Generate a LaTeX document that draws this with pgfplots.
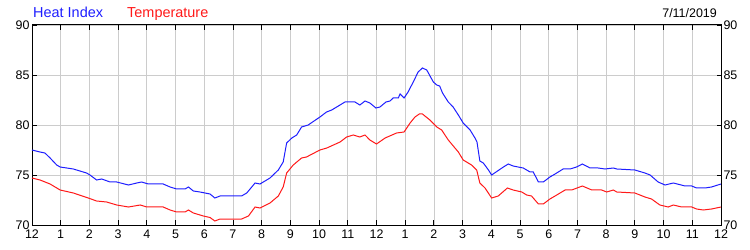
\documentclass[border=0pt]{standalone}
\usepackage{pgfplots}
\pgfplotsset{compat=1.18}
\usepackage{fontspec}
\setmainfont{Liberation Sans}
\definecolor{hiblue}{RGB}{30,30,255}
\definecolor{tred}{RGB}{255,25,25}
\begin{document}
\begin{tikzpicture}
\path[use as bounding box] (-32bp,-25bp) rectangle (718bp,225bp);
\begin{axis}[
  scale only axis, width=689bp, height=200bp,
  xmin=0, xmax=24, ymin=70, ymax=90,
  xtick={0,...,24},
  xticklabels={12,1,2,3,4,5,6,7,8,9,10,11,12,1,2,3,4,5,6,7,8,9,10,11,12},
  ytick={70,75,...,90},
  grid=major,
  major grid style={draw=black!20, line width=0.8bp},
  axis line style={line width=1bp},
  tick align=inside,
  major tick length=4.5bp,
  every tick/.style={black, line width=0.9bp},
  xtick pos=both, ytick pos=both,
  yticklabel pos=left,
  /pgf/number format/assume math mode=true,
  tick label style={font=\fontsize{12.5}{14}\selectfont},
  xticklabel style={yshift=-1bp},
  yticklabel style={xshift=1bp},
  clip=false,
]
\addplot[hiblue, line width=1bp] coordinates {
(0,77.5) (0.28,77.3) (0.45,77.2) (0.63,76.7) (0.86,76.0) (0.98,75.8) (1.44,75.6)
(1.9,75.2) (2.02,75.0) (2.25,74.5) (2.43,74.6) (2.72,74.3) (2.95,74.3) (3.36,74.0)
(3.65,74.2) (3.82,74.3) (4.05,74.1) (4.57,74.1) (4.81,73.8) (5.04,73.6) (5.33,73.6)
(5.45,73.8) (5.62,73.4) (5.85,73.3) (6.2,73.1) (6.37,72.7) (6.55,72.9) (7.3,72.9)
(7.48,73.2) (7.77,74.2) (7.94,74.1) (8.29,74.7) (8.58,75.5) (8.75,76.3) (8.87,78.2)
(9.05,78.7) (9.22,79.0) (9.39,79.8) (9.62,80.0) (10.03,80.8) (10.26,81.3) (10.44,81.5)
(10.73,82.0) (10.9,82.3) (11.25,82.3) (11.42,82.0) (11.6,82.4) (11.77,82.2) (11.98,81.7)
(12.12,81.8) (12.33,82.3) (12.47,82.4) (12.58,82.7) (12.76,82.7) (12.82,83.1) (12.96,82.7)
(13.1,83.3) (13.28,84.3) (13.45,85.3) (13.6,85.7) (13.75,85.5) (13.98,84.3) (14.1,84.0)
(14.2,83.9) (14.3,83.2) (14.5,82.3) (14.67,81.8) (14.85,81.0) (15.02,80.2) (15.26,79.5)
(15.43,78.7) (15.5,78.3) (15.6,76.4) (15.72,76.2) (15.9,75.5) (16.01,75.0) (16.42,75.8)
(16.59,76.1) (16.76,75.9) (17.11,75.7) (17.35,75.3) (17.46,75.3) (17.64,74.3) (17.81,74.3)
(18.04,74.8) (18.22,75.1) (18.5,75.6) (18.74,75.6) (18.97,75.8) (19.17,76.1) (19.44,75.7)
(19.72,75.7) (19.96,75.6) (20.25,75.7) (20.37,75.6) (21.0,75.5) (21.35,75.2) (21.53,75.0)
(21.81,74.3) (22.05,74.0) (22.34,74.2) (22.75,73.9) (22.98,73.9) (23.15,73.7) (23.44,73.7)
(23.67,73.8) (24,74.1)
};
\addplot[tred, line width=1bp] coordinates {
(0,74.7) (0.28,74.5) (0.63,74.1) (0.98,73.5) (1.44,73.2) (1.96,72.7) (2.25,72.4)
(2.6,72.3) (2.95,72.0) (3.36,71.8) (3.77,72.0) (4.0,71.8) (4.57,71.8) (4.81,71.5)
(5.04,71.3) (5.33,71.3) (5.45,71.5) (5.62,71.2) (5.97,70.9) (6.2,70.75) (6.37,70.4)
(6.55,70.6) (7.3,70.6) (7.54,70.9) (7.77,71.8) (7.94,71.7) (8.29,72.2) (8.58,72.9)
(8.75,73.8) (8.87,75.2) (9.1,76.0) (9.39,76.7) (9.56,76.8) (10.03,77.5) (10.27,77.7)
(10.5,78.0) (10.73,78.3) (10.96,78.8) (11.19,79.0) (11.42,78.8) (11.6,79.0) (11.77,78.5)
(12.0,78.1) (12.3,78.7) (12.7,79.2) (12.96,79.3) (13.17,80.2) (13.34,80.8) (13.49,81.1)
(13.6,81.1) (13.86,80.5) (14.1,79.8) (14.27,79.5) (14.5,78.5) (14.85,77.3) (15.02,76.5)
(15.31,76.0) (15.49,75.5) (15.6,74.2) (15.78,73.7) (16.01,72.7) (16.24,72.9) (16.56,73.7)
(16.76,73.5) (17.06,73.3) (17.23,73.0) (17.4,72.9) (17.64,72.1) (17.81,72.1) (18.04,72.6)
(18.22,72.9) (18.57,73.5) (18.8,73.5) (19.17,73.9) (19.5,73.5) (19.84,73.5) (20.02,73.3)
(20.25,73.5) (20.37,73.3) (21.0,73.2) (21.35,72.8) (21.58,72.6) (21.87,72.0) (22.16,71.8)
(22.34,72.0) (22.63,71.8) (22.98,71.8) (23.15,71.6) (23.38,71.5) (23.67,71.6) (24,71.8)
};
\node[anchor=base west, inner sep=0pt, text=hiblue, font=\fontsize{14.5}{16}\selectfont]
  at ([xshift=1bp,yshift=8bp]rel axis cs:0,1) {Heat Index};
\node[anchor=base west, inner sep=0pt, text=tred, font=\fontsize{14.5}{16}\selectfont]
  at ([xshift=95bp,yshift=8bp]rel axis cs:0,1) {Temperature};
\node[anchor=base east, inner sep=0pt, font=\fontsize{12.5}{14}\selectfont]
  at ([xshift=-4bp,yshift=8bp]rel axis cs:1,1) {7/11/2019};
\end{axis}
\begin{axis}[
  scale only axis, width=689bp, height=200bp,
  xmin=0, xmax=24, ymin=70, ymax=90,
  hide x axis,
  axis y line*=right,
  axis line style={line width=1bp, -},
  ytick={70,75,...,90},
  tick align=inside,
  major tick length=4.5bp,
  every tick/.style={black, line width=0.9bp},
  /pgf/number format/assume math mode=true,
  tick label style={font=\fontsize{12.5}{14}\selectfont},
  yticklabel style={xshift=-1bp},
]
\end{axis}
\end{tikzpicture}
\end{document}
